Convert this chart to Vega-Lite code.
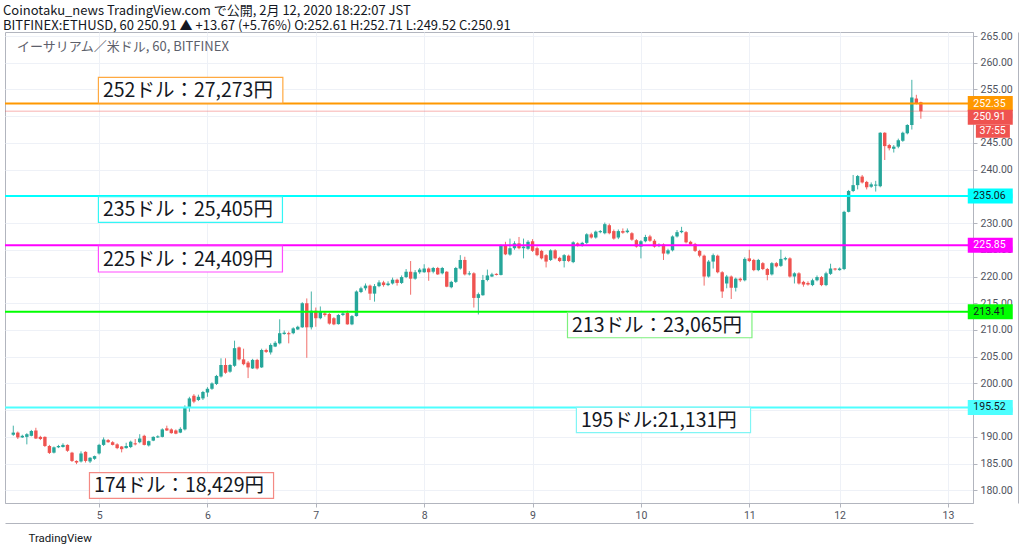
{
  "$schema": "https://vega.github.io/schema/vega-lite/v6.json",
  "width": 968,
  "height": 471,
  "autosize": {"type": "none"},
  "padding": {"left": 5, "top": 32, "right": 51, "bottom": 49},
  "background": "white",
  "config": {
    "view": {"stroke": "#b2b5be", "strokeWidth": 1},
    "font": "Roboto"
  },
  "title": {
    "text": "Coinotaku_news TradingView.com で公開, 2月 12, 2020 18:22:07 JST",
    "subtitle": "BITFINEX:ETHUSD, 60 250.91 ▲ +13.67 (+5.76%) O:252.61 H:252.71 L:249.52 C:250.91",
    "anchor": "start",
    "frame": "group",
    "dx": -2,
    "offset": -2,
    "font": "Noto Sans CJK JP",
    "fontSize": 13,
    "fontWeight": "normal",
    "color": "#131722",
    "subtitleFont": "Noto Sans CJK JP",
    "subtitleFontSize": 13,
    "subtitleColor": "#131722",
    "subtitlePadding": 2
  },
  "datasets": {
    "candles": [
      {"t": -19, "o": 190.4, "h": 192.1, "l": 190.2, "c": 190.8},
      {"t": -18, "o": 190.8, "h": 191.0, "l": 189.6, "c": 189.9},
      {"t": -17, "o": 189.9, "h": 190.4, "l": 189.8, "c": 190.2},
      {"t": -16, "o": 190.0, "h": 190.7, "l": 188.6, "c": 190.5},
      {"t": -15, "o": 190.2, "h": 191.3, "l": 190.1, "c": 191.1},
      {"t": -14, "o": 191.2, "h": 191.7, "l": 189.6, "c": 189.7},
      {"t": -13, "o": 190.0, "h": 190.2, "l": 189.4, "c": 189.6},
      {"t": -12, "o": 190.0, "h": 190.1, "l": 188.1, "c": 188.3},
      {"t": -11, "o": 188.3, "h": 188.5, "l": 186.8, "c": 187.0},
      {"t": -10, "o": 187.05, "h": 188.2, "l": 186.9, "c": 188.05},
      {"t": -9, "o": 188.05, "h": 188.5, "l": 187.9, "c": 188.3},
      {"t": -8, "o": 188.1, "h": 188.8, "l": 188.0, "c": 188.5},
      {"t": -7, "o": 188.5, "h": 188.6, "l": 187.2, "c": 187.4},
      {"t": -6, "o": 187.05, "h": 187.2, "l": 185.3, "c": 185.5},
      {"t": -5, "o": 185.5, "h": 185.6, "l": 184.9, "c": 185.2},
      {"t": -4, "o": 185.4, "h": 187.3, "l": 185.2, "c": 186.9},
      {"t": -3, "o": 187.2, "h": 187.3, "l": 185.2, "c": 185.5},
      {"t": -2, "o": 185.4, "h": 186.2, "l": 185.1, "c": 186.1},
      {"t": -1, "o": 185.9, "h": 186.5, "l": 185.7, "c": 186.4},
      {"t": 0, "o": 186.9, "h": 188.7, "l": 186.7, "c": 188.5},
      {"t": 1, "o": 188.5, "h": 189.9, "l": 188.3, "c": 189.5},
      {"t": 2, "o": 189.4, "h": 189.6, "l": 188.9, "c": 189.0},
      {"t": 3, "o": 189.0, "h": 189.2, "l": 188.4, "c": 188.5},
      {"t": 4, "o": 188.6, "h": 188.8, "l": 187.7, "c": 187.9},
      {"t": 5, "o": 188.2, "h": 188.3, "l": 187.1, "c": 187.7},
      {"t": 6, "o": 187.9, "h": 188.9, "l": 187.8, "c": 188.3},
      {"t": 7, "o": 188.1, "h": 189.3, "l": 187.9, "c": 189.1},
      {"t": 8, "o": 188.8, "h": 189.6, "l": 188.4, "c": 188.6},
      {"t": 9, "o": 189.0, "h": 190.5, "l": 188.8, "c": 189.7},
      {"t": 10, "o": 190.2, "h": 190.4, "l": 188.4, "c": 188.5},
      {"t": 11, "o": 188.4, "h": 189.3, "l": 188.2, "c": 189.2},
      {"t": 12, "o": 189.3, "h": 190.1, "l": 189.2, "c": 190.0},
      {"t": 13, "o": 189.9, "h": 190.3, "l": 189.8, "c": 190.1},
      {"t": 14, "o": 190.0, "h": 191.6, "l": 189.9, "c": 191.4},
      {"t": 15, "o": 191.6, "h": 192.1, "l": 191.1, "c": 191.2},
      {"t": 16, "o": 191.4, "h": 191.6, "l": 190.6, "c": 190.7},
      {"t": 17, "o": 191.2, "h": 191.4, "l": 190.5, "c": 190.6},
      {"t": 18, "o": 190.8, "h": 191.8, "l": 190.7, "c": 191.5},
      {"t": 19, "o": 191.4, "h": 195.9, "l": 191.2, "c": 195.6},
      {"t": 20, "o": 195.6, "h": 197.5, "l": 194.7, "c": 197.2},
      {"t": 21, "o": 197.7, "h": 198.0, "l": 196.3, "c": 196.6},
      {"t": 22, "o": 196.9, "h": 197.9, "l": 196.7, "c": 197.5},
      {"t": 23, "o": 197.2, "h": 198.6, "l": 196.9, "c": 198.4},
      {"t": 24, "o": 198.3, "h": 199.3, "l": 197.5, "c": 199.0},
      {"t": 25, "o": 199.0, "h": 200.2, "l": 198.8, "c": 200.0},
      {"t": 26, "o": 199.9, "h": 201.6, "l": 199.7, "c": 201.4},
      {"t": 27, "o": 201.3, "h": 204.7, "l": 201.1, "c": 203.45},
      {"t": 28, "o": 203.45, "h": 204.7, "l": 201.8, "c": 202.0},
      {"t": 29, "o": 202.2, "h": 203.6, "l": 202.0, "c": 203.45},
      {"t": 30, "o": 203.3, "h": 208.0, "l": 203.1, "c": 206.6},
      {"t": 31, "o": 206.75, "h": 206.9, "l": 204.3, "c": 204.5},
      {"t": 32, "o": 204.5, "h": 206.5, "l": 203.4, "c": 203.6},
      {"t": 33, "o": 203.9, "h": 204.2, "l": 201.0, "c": 203.0},
      {"t": 34, "o": 202.8, "h": 204.6, "l": 202.7, "c": 204.4},
      {"t": 35, "o": 204.4, "h": 204.6, "l": 202.6, "c": 202.8},
      {"t": 36, "o": 203.0, "h": 206.5, "l": 202.9, "c": 206.25},
      {"t": 37, "o": 206.25, "h": 206.5, "l": 205.7, "c": 205.9},
      {"t": 38, "o": 205.8, "h": 207.5, "l": 205.4, "c": 207.2},
      {"t": 39, "o": 206.9, "h": 207.9, "l": 206.8, "c": 207.6},
      {"t": 40, "o": 207.5, "h": 212.0, "l": 207.3, "c": 209.4},
      {"t": 41, "o": 209.25, "h": 209.9, "l": 209.1, "c": 209.5},
      {"t": 42, "o": 209.4, "h": 209.7, "l": 207.5, "c": 209.2},
      {"t": 43, "o": 209.4, "h": 210.5, "l": 209.2, "c": 210.3},
      {"t": 44, "o": 210.1, "h": 210.8, "l": 210.0, "c": 210.6},
      {"t": 45, "o": 210.5, "h": 215.2, "l": 210.4, "c": 215.0},
      {"t": 46, "o": 215.0, "h": 215.9, "l": 204.8, "c": 210.5},
      {"t": 47, "o": 210.5, "h": 217.2, "l": 210.1, "c": 213.6},
      {"t": 48, "o": 213.6, "h": 214.2, "l": 210.6, "c": 212.2},
      {"t": 49, "o": 212.2, "h": 214.4, "l": 212.0, "c": 213.4},
      {"t": 50, "o": 213.1, "h": 213.5, "l": 212.5, "c": 212.8},
      {"t": 51, "o": 213.0, "h": 213.2, "l": 211.0, "c": 211.2},
      {"t": 52, "o": 212.2, "h": 212.4, "l": 210.9, "c": 211.05},
      {"t": 53, "o": 211.1, "h": 213.0, "l": 211.0, "c": 212.8},
      {"t": 54, "o": 212.8, "h": 213.4, "l": 212.6, "c": 213.1},
      {"t": 55, "o": 213.2, "h": 213.6, "l": 211.0, "c": 211.05},
      {"t": 56, "o": 211.05, "h": 212.8, "l": 210.9, "c": 212.6},
      {"t": 57, "o": 212.6, "h": 217.4, "l": 212.5, "c": 217.2},
      {"t": 58, "o": 217.1, "h": 218.1, "l": 216.9, "c": 217.8},
      {"t": 59, "o": 217.8, "h": 218.7, "l": 217.4, "c": 218.3},
      {"t": 60, "o": 218.3, "h": 218.5, "l": 215.6, "c": 216.8},
      {"t": 61, "o": 216.8, "h": 218.6, "l": 215.3, "c": 218.2},
      {"t": 62, "o": 218.2, "h": 219.3, "l": 218.0, "c": 218.9},
      {"t": 63, "o": 218.9, "h": 219.2, "l": 218.1, "c": 218.4},
      {"t": 64, "o": 218.4, "h": 219.1, "l": 218.2, "c": 218.7},
      {"t": 65, "o": 218.7, "h": 219.8, "l": 218.5, "c": 219.4},
      {"t": 66, "o": 219.4, "h": 219.6, "l": 218.3, "c": 218.8},
      {"t": 67, "o": 218.8, "h": 220.2, "l": 218.6, "c": 219.9},
      {"t": 68, "o": 219.9, "h": 221.4, "l": 219.7, "c": 220.9},
      {"t": 69, "o": 220.9, "h": 222.9, "l": 216.6, "c": 219.6},
      {"t": 70, "o": 219.6, "h": 221.2, "l": 219.4, "c": 220.8},
      {"t": 71, "o": 220.8, "h": 221.6, "l": 220.5, "c": 221.3},
      {"t": 72, "o": 220.8, "h": 222.3, "l": 220.7, "c": 221.5},
      {"t": 73, "o": 221.5, "h": 221.7, "l": 219.2, "c": 220.8},
      {"t": 74, "o": 220.9, "h": 221.8, "l": 220.6, "c": 221.6},
      {"t": 75, "o": 221.6, "h": 221.8, "l": 220.3, "c": 220.4},
      {"t": 76, "o": 220.6, "h": 221.8, "l": 220.4, "c": 221.6},
      {"t": 77, "o": 220.9, "h": 221.0, "l": 218.0, "c": 218.1},
      {"t": 78, "o": 218.0, "h": 219.2, "l": 217.8, "c": 219.0},
      {"t": 79, "o": 219.0, "h": 221.8, "l": 218.8, "c": 221.6},
      {"t": 80, "o": 221.5, "h": 224.0, "l": 221.3, "c": 223.1},
      {"t": 81, "o": 223.1, "h": 223.7, "l": 220.2, "c": 220.4},
      {"t": 82, "o": 220.4, "h": 221.0, "l": 220.2, "c": 220.6},
      {"t": 83, "o": 220.6, "h": 220.8, "l": 214.2, "c": 216.0},
      {"t": 84, "o": 216.0, "h": 217.0, "l": 212.9, "c": 216.7},
      {"t": 85, "o": 216.5, "h": 220.3, "l": 216.4, "c": 219.35},
      {"t": 86, "o": 219.35, "h": 221.3, "l": 219.1, "c": 220.2},
      {"t": 87, "o": 220.0, "h": 220.7, "l": 219.9, "c": 220.4},
      {"t": 88, "o": 220.5, "h": 220.6, "l": 220.2, "c": 220.3},
      {"t": 89, "o": 220.3, "h": 226.0, "l": 220.2, "c": 225.8},
      {"t": 90, "o": 225.8, "h": 226.5, "l": 224.0, "c": 224.15},
      {"t": 91, "o": 224.1, "h": 227.1, "l": 223.9, "c": 225.3},
      {"t": 92, "o": 225.3, "h": 226.6, "l": 225.0, "c": 226.2},
      {"t": 93, "o": 226.2, "h": 227.4, "l": 225.1, "c": 225.3},
      {"t": 94, "o": 225.3, "h": 227.1, "l": 223.4, "c": 225.6},
      {"t": 95, "o": 225.2, "h": 226.8, "l": 225.0, "c": 226.5},
      {"t": 96, "o": 226.6, "h": 227.0, "l": 224.6, "c": 224.8},
      {"t": 97, "o": 225.3, "h": 225.6, "l": 223.8, "c": 224.0},
      {"t": 98, "o": 224.8, "h": 225.0, "l": 223.2, "c": 223.4},
      {"t": 99, "o": 224.0, "h": 224.2, "l": 221.7, "c": 222.8},
      {"t": 100, "o": 223.1, "h": 225.1, "l": 222.9, "c": 224.9},
      {"t": 101, "o": 224.9, "h": 225.1, "l": 223.2, "c": 223.4},
      {"t": 102, "o": 223.5, "h": 223.7, "l": 222.7, "c": 222.9},
      {"t": 103, "o": 222.9, "h": 224.2, "l": 221.7, "c": 224.0},
      {"t": 104, "o": 223.9, "h": 224.1, "l": 222.7, "c": 222.9},
      {"t": 105, "o": 222.7, "h": 226.6, "l": 222.5, "c": 226.4},
      {"t": 106, "o": 226.2, "h": 226.4, "l": 225.6, "c": 225.9},
      {"t": 107, "o": 225.8, "h": 226.5, "l": 225.6, "c": 226.3},
      {"t": 108, "o": 226.3, "h": 228.1, "l": 226.1, "c": 227.9},
      {"t": 109, "o": 227.9, "h": 228.2, "l": 227.1, "c": 227.3},
      {"t": 110, "o": 227.3, "h": 228.6, "l": 227.1, "c": 228.4},
      {"t": 111, "o": 228.3, "h": 228.7, "l": 228.1, "c": 228.5},
      {"t": 112, "o": 228.1, "h": 230.1, "l": 227.9, "c": 229.8},
      {"t": 113, "o": 229.6, "h": 229.9, "l": 227.9, "c": 228.1},
      {"t": 114, "o": 228.5, "h": 228.8, "l": 226.9, "c": 227.1},
      {"t": 115, "o": 227.3, "h": 228.8, "l": 227.0, "c": 228.5},
      {"t": 116, "o": 228.5, "h": 229.0, "l": 228.0, "c": 228.2},
      {"t": 117, "o": 228.3, "h": 229.0, "l": 228.1, "c": 228.6},
      {"t": 118, "o": 228.1, "h": 228.3, "l": 226.7, "c": 226.9},
      {"t": 119, "o": 226.8, "h": 227.0, "l": 225.4, "c": 225.6},
      {"t": 120, "o": 225.6, "h": 226.8, "l": 223.4, "c": 226.6},
      {"t": 121, "o": 226.6, "h": 227.8, "l": 226.4, "c": 227.4},
      {"t": 122, "o": 227.5, "h": 227.8, "l": 226.5, "c": 226.7},
      {"t": 123, "o": 226.7, "h": 227.0, "l": 225.4, "c": 225.6},
      {"t": 124, "o": 225.7, "h": 226.2, "l": 225.5, "c": 225.95},
      {"t": 125, "o": 226.0, "h": 226.2, "l": 223.1, "c": 224.3},
      {"t": 126, "o": 224.3, "h": 225.2, "l": 224.1, "c": 224.9},
      {"t": 127, "o": 224.9, "h": 227.7, "l": 224.7, "c": 227.5},
      {"t": 128, "o": 227.5, "h": 228.7, "l": 227.3, "c": 228.3},
      {"t": 129, "o": 228.3, "h": 229.3, "l": 228.1, "c": 228.55},
      {"t": 130, "o": 228.3, "h": 228.5, "l": 226.2, "c": 226.4},
      {"t": 131, "o": 226.5, "h": 226.7, "l": 225.8, "c": 226.0},
      {"t": 132, "o": 226.1, "h": 226.3, "l": 224.6, "c": 224.8},
      {"t": 133, "o": 224.8, "h": 225.0, "l": 223.6, "c": 223.9},
      {"t": 134, "o": 223.9, "h": 224.1, "l": 218.3, "c": 220.0},
      {"t": 135, "o": 220.0, "h": 223.1, "l": 219.8, "c": 222.8},
      {"t": 136, "o": 222.8, "h": 224.3, "l": 221.5, "c": 224.0},
      {"t": 137, "o": 223.9, "h": 224.1, "l": 220.6, "c": 220.8},
      {"t": 138, "o": 220.8, "h": 221.0, "l": 216.0, "c": 217.2},
      {"t": 139, "o": 218.7, "h": 220.3, "l": 217.8, "c": 220.0},
      {"t": 140, "o": 220.0, "h": 220.2, "l": 215.8, "c": 217.9},
      {"t": 141, "o": 217.9, "h": 219.8, "l": 217.2, "c": 219.6},
      {"t": 142, "o": 219.6, "h": 219.8, "l": 219.0, "c": 219.3},
      {"t": 143, "o": 219.3, "h": 223.6, "l": 219.1, "c": 223.3},
      {"t": 144, "o": 223.4, "h": 225.0, "l": 222.7, "c": 222.9},
      {"t": 145, "o": 223.1, "h": 223.3, "l": 221.0, "c": 221.2},
      {"t": 146, "o": 221.2, "h": 223.3, "l": 221.0, "c": 223.1},
      {"t": 147, "o": 222.5, "h": 222.7, "l": 221.2, "c": 221.4},
      {"t": 148, "o": 221.4, "h": 221.6, "l": 219.3, "c": 220.3},
      {"t": 149, "o": 220.4, "h": 222.7, "l": 220.2, "c": 222.5},
      {"t": 150, "o": 222.5, "h": 222.7, "l": 221.7, "c": 221.9},
      {"t": 151, "o": 222.0, "h": 225.0, "l": 221.8, "c": 223.3},
      {"t": 152, "o": 223.2, "h": 223.7, "l": 223.0, "c": 223.45},
      {"t": 153, "o": 223.4, "h": 223.6, "l": 219.8, "c": 220.0},
      {"t": 154, "o": 220.0, "h": 220.8, "l": 218.7, "c": 220.6},
      {"t": 155, "o": 220.6, "h": 220.8, "l": 218.5, "c": 218.7},
      {"t": 156, "o": 219.0, "h": 219.2, "l": 218.1, "c": 218.5},
      {"t": 157, "o": 218.8, "h": 219.1, "l": 218.3, "c": 218.5},
      {"t": 158, "o": 218.4, "h": 219.6, "l": 218.2, "c": 219.3},
      {"t": 159, "o": 219.3, "h": 220.2, "l": 219.1, "c": 219.9},
      {"t": 160, "o": 219.9, "h": 220.1, "l": 218.2, "c": 218.4},
      {"t": 161, "o": 218.4, "h": 220.9, "l": 218.2, "c": 220.6},
      {"t": 162, "o": 220.5, "h": 222.4, "l": 220.3, "c": 221.5},
      {"t": 163, "o": 221.5, "h": 221.6, "l": 221.1, "c": 221.3},
      {"t": 164, "o": 221.2, "h": 221.7, "l": 221.1, "c": 221.5},
      {"t": 165, "o": 221.4, "h": 232.3, "l": 221.2, "c": 232.1},
      {"t": 166, "o": 232.1, "h": 236.2, "l": 232.0, "c": 236.0},
      {"t": 167, "o": 236.0, "h": 239.0, "l": 235.8, "c": 237.1},
      {"t": 168, "o": 237.1, "h": 239.0, "l": 236.3, "c": 238.8},
      {"t": 169, "o": 238.7, "h": 239.0, "l": 237.4, "c": 237.6},
      {"t": 170, "o": 237.7, "h": 237.9, "l": 236.3, "c": 236.7},
      {"t": 171, "o": 236.8, "h": 237.6, "l": 236.6, "c": 237.25},
      {"t": 172, "o": 237.0, "h": 237.9, "l": 235.9, "c": 237.2},
      {"t": 173, "o": 236.9, "h": 247.0, "l": 236.7, "c": 246.9},
      {"t": 174, "o": 246.9, "h": 247.0, "l": 241.8, "c": 244.4},
      {"t": 175, "o": 244.6, "h": 244.8, "l": 243.6, "c": 244.0},
      {"t": 176, "o": 243.9, "h": 244.6, "l": 243.2, "c": 244.3},
      {"t": 177, "o": 244.3, "h": 245.8, "l": 244.0, "c": 245.5},
      {"t": 178, "o": 245.4, "h": 247.1, "l": 245.2, "c": 246.9},
      {"t": 179, "o": 246.8, "h": 248.5, "l": 246.6, "c": 248.35},
      {"t": 180, "o": 248.35, "h": 256.8, "l": 247.5, "c": 253.5},
      {"t": 181, "o": 253.3, "h": 254.0, "l": 252.2, "c": 252.4},
      {"t": 182, "o": 252.61, "h": 252.71, "l": 249.52, "c": 250.91}
    ],
    "levels": [
      {"name": "orange", "price": 252.35, "label": "252.35"},
      {"name": "cyan", "price": 235.06, "label": "235.06"},
      {"name": "magenta", "price": 225.85, "label": "225.85"},
      {"name": "green", "price": 213.41, "label": "213.41"},
      {"name": "aqua", "price": 195.52, "label": "195.52"}
    ],
    "notes": [
      {"name": "orange", "label": "252ドル：27,273円", "t0": -0.15, "t1": 40.7, "top": 257.27, "bottom": 252.47},
      {"name": "cyan", "label": "235ドル：25,405円", "t0": -0.15, "t1": 40.61, "top": 234.93, "bottom": 230.14},
      {"name": "magenta", "label": "225ドル：24,409円", "t0": -0.15, "t1": 40.61, "top": 225.71, "bottom": 220.85},
      {"name": "green", "label": "213ドル：23,065円", "t0": 103.74, "t1": 144.59, "top": 213.31, "bottom": 208.55},
      {"name": "aqua", "label": "195ドル:21,131円", "t0": 105.71, "t1": 144.28, "top": 195.53, "bottom": 190.78},
      {"name": "red", "label": "174ドル：18,429円", "t0": -2.13, "t1": 38.64, "top": 183.3, "bottom": 178.51}
    ],
    "last": [
      {"price": 250.91, "label": "250.91", "timer": "37:55"}
    ]
  },
  "resolve": {"axis": {"x": "independent", "y": "independent"}},
  "layer": [
    {
      "data": {"name": "candles"},
      "mark": {"type": "rule", "strokeWidth": 1, "opacity": 0.85},
      "encoding": {
        "x": {
          "field": "t",
          "type": "quantitative",
          "scale": {"domain": [-19.73, 192.44], "nice": false, "zero": false},
          "axis": {
            "orient": "bottom",
            "values": [0, 24, 48, 72, 96, 120, 144, 164, 188],
            "labelExpr": "['5','6','7','8','9','10','11','12','13'][indexof([0,24,48,72,96,120,144,164,188], datum.value)]",
            "labelOverlap": false,
            "grid": true,
            "gridColor": "#eef1f7",
            "domainColor": "#b2b5be",
            "tickColor": "#b2b5be",
            "tickSize": 4,
            "labelFont": "Roboto",
            "labelFontSize": 10.5,
            "labelColor": "#50535e",
            "labelPadding": 3,
            "title": "TradingView",
            "titleAnchor": "start",
            "titleAlign": "left",
            "titleBaseline": "middle",
            "titleX": 23,
            "titleY": 35,
            "titleFont": "Roboto",
            "titleFontSize": 11.5,
            "titleFontWeight": "normal",
            "titleColor": "#131722"
          }
        },
        "y": {
          "field": "l",
          "type": "quantitative",
          "scale": {"domain": [177.63, 265.75], "nice": false, "zero": false},
          "axis": {
            "orient": "right",
            "values": [180, 185, 190, 195, 200, 205, 210, 215, 220, 225, 230, 235, 240, 245, 250, 255, 260, 265],
            "format": ".2f",
            "labelOverlap": false,
            "labelFlush": false,
            "grid": true,
            "gridColor": "#eef1f7",
            "domainColor": "#b2b5be",
            "tickColor": "#b2b5be",
            "tickSize": 4,
            "labelFont": "Roboto",
            "labelFontSize": 10.5,
            "labelColor": "#50535e",
            "labelPadding": 3,
            "title": null
          }
        },
        "y2": {"field": "h"},
        "color": {"condition": {"test": "datum.c >= datum.o", "value": "#26a69a"}, "value": "#ef5350"}
      }
    },
    {
      "data": {"name": "candles"},
      "mark": {"type": "bar", "size": 3.4},
      "encoding": {
        "x": {"field": "t", "type": "quantitative", "axis": null},
        "y": {"field": "o", "type": "quantitative", "axis": null},
        "y2": {"field": "c"},
        "color": {"condition": {"test": "datum.c >= datum.o", "value": "#26a69a"}, "value": "#ef5350"}
      }
    },
    {
      "data": {"name": "levels"},
      "mark": {"type": "rule", "strokeWidth": 2},
      "encoding": {
        "y": {"field": "price", "type": "quantitative", "axis": null},
        "color": {
          "field": "name",
          "type": "nominal",
          "legend": null,
          "scale": {
            "domain": ["orange", "cyan", "magenta", "green", "aqua"],
            "range": ["#ff9800", "#00ffff", "#ff00ff", "#00ff00", "#4dffff"]
          }
        }
      }
    },
    {
      "data": {"name": "last"},
      "mark": {"type": "rule", "strokeWidth": 1.5, "color": "#ef5350", "opacity": 0.3},
      "encoding": {
        "y": {"field": "price", "type": "quantitative", "axis": null}
      }
    },
    {
      "data": {"name": "notes"},
      "mark": {"type": "rect", "fill": "white", "strokeWidth": 1.2},
      "encoding": {
        "x": {
          "field": "t0",
          "type": "quantitative",
          "axis": {"orient": "bottom", "offset": 20, "labels": false, "ticks": false, "grid": false, "domain": true, "title": null, "domainColor": "#b2b5be"}
        },
        "x2": {"field": "t1"},
        "y": {
          "field": "top",
          "type": "quantitative",
          "axis": {"orient": "right", "offset": 45, "labels": false, "ticks": false, "grid": false, "domain": true, "title": null, "domainColor": "#b2b5be"}
        },
        "y2": {"field": "bottom"},
        "stroke": {
          "field": "name",
          "type": "nominal",
          "legend": null,
          "scale": {
            "domain": ["orange", "cyan", "magenta", "green", "aqua", "red"],
            "range": ["#ffa940", "#33f6f6", "#ff4dff", "#7ef07e", "#80f5f5", "#f48a84"]
          }
        }
      }
    },
    {
      "data": {"name": "notes"},
      "mark": {"type": "text", "align": "left", "baseline": "alphabetic", "dx": 4.5, "dy": -6, "font": "Noto Sans CJK JP", "fontSize": 19.5, "color": "#131722"},
      "encoding": {
        "x": {"field": "t0", "type": "quantitative", "axis": null},
        "y": {"field": "bottom", "type": "quantitative", "axis": null},
        "text": {"field": "label"}
      }
    },
    {
      "data": {"name": "levels"},
      "mark": {"type": "tick", "orient": "horizontal", "thickness": 15, "opacity": 1},
      "encoding": {
        "x": {"datum": 197.37, "axis": null},
        "y": {"field": "price", "type": "quantitative", "axis": null},
        "size": {"value": 45},
        "color": {"field": "name", "type": "nominal", "legend": null}
      }
    },
    {
      "data": {"name": "levels"},
      "mark": {"type": "text", "align": "center", "baseline": "middle", "font": "Roboto", "fontSize": 10.5},
      "encoding": {
        "x": {"datum": 197.2, "axis": null},
        "y": {"field": "price", "type": "quantitative", "axis": null},
        "text": {"field": "label"},
        "color": {"condition": {"test": "indexof(['cyan','green','aqua'], datum.name) >= 0", "value": "#131722"}, "value": "#ffffff"}
      }
    },
    {
      "data": {"name": "last"},
      "mark": {"type": "tick", "orient": "horizontal", "thickness": 15, "opacity": 1, "color": "#ef5350", "yOffset": 6},
      "encoding": {
        "x": {"datum": 197.37, "axis": null},
        "y": {"field": "price", "type": "quantitative", "axis": null},
        "size": {"value": 45}
      }
    },
    {
      "data": {"name": "last"},
      "mark": {"type": "text", "align": "center", "baseline": "middle", "font": "Roboto", "fontSize": 10.5, "color": "#ffffff", "dy": 6},
      "encoding": {
        "x": {"datum": 197.2, "axis": null},
        "y": {"field": "price", "type": "quantitative", "axis": null},
        "text": {"field": "label"}
      }
    },
    {
      "data": {"name": "last"},
      "mark": {"type": "tick", "orient": "horizontal", "thickness": 13, "opacity": 1, "color": "#ef5350", "yOffset": 20},
      "encoding": {
        "x": {"datum": 197.95, "axis": null},
        "y": {"field": "price", "type": "quantitative", "axis": null},
        "size": {"value": 34}
      }
    },
    {
      "data": {"name": "last"},
      "mark": {"type": "text", "align": "center", "baseline": "middle", "font": "Roboto", "fontSize": 10.5, "color": "#ffffff", "dy": 20},
      "encoding": {
        "x": {"datum": 197.9, "axis": null},
        "y": {"field": "price", "type": "quantitative", "axis": null},
        "text": {"field": "timer"}
      }
    },
    {
      "data": {"values": [{"label": "イーサリアム／米ドル, 60, BITFINEX"}]},
      "mark": {"type": "text", "align": "left", "baseline": "middle", "font": "Noto Sans CJK JP", "fontSize": 13, "color": "#5d606b"},
      "encoding": {
        "x": {"datum": -18.2, "axis": null},
        "y": {"datum": 262.94, "axis": null},
        "text": {"field": "label"}
      }
    }
  ]
}
